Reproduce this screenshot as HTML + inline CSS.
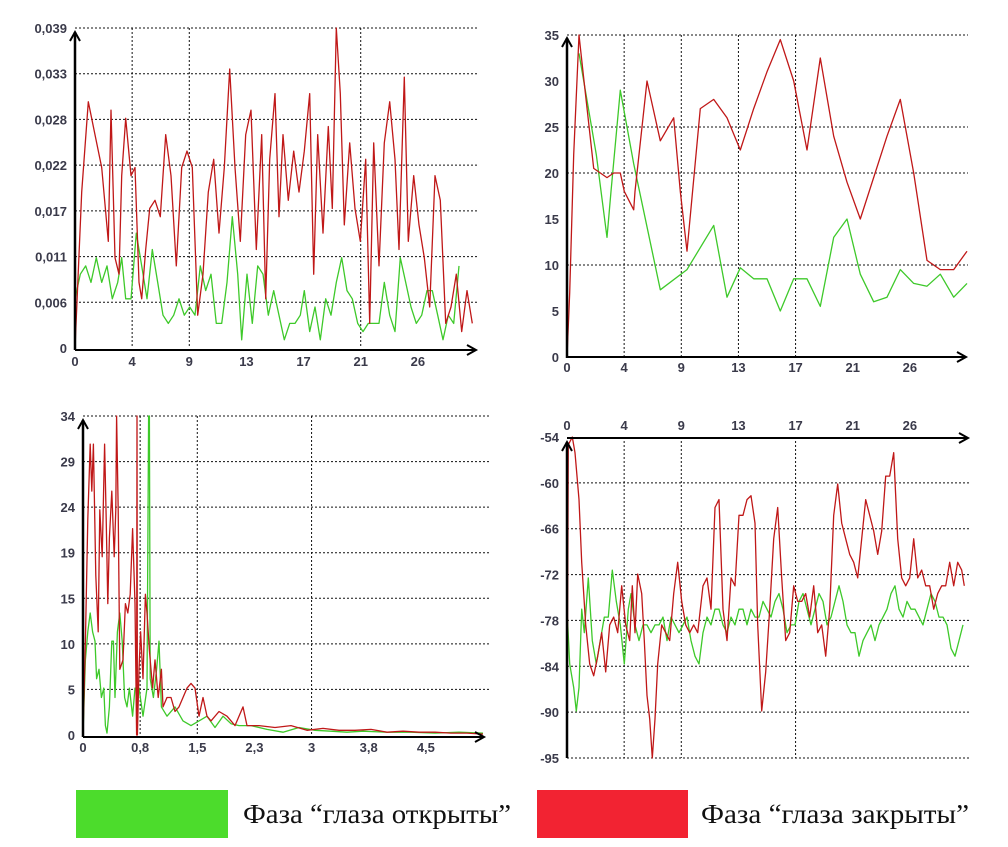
<!DOCTYPE html>
<html><head><meta charset="utf-8"><style>
html,body{margin:0;padding:0;background:#fff;}
svg{display:block;}
.tk{font-family:"Liberation Sans",sans-serif;font-size:13px;font-weight:bold;fill:#3a3a4a;}
.lg{font-family:"Liberation Serif","Noto Serif CJK SC",serif;font-size:27px;fill:#111;}
</style></head><body>
<svg id="root" width="1008" height="847" viewBox="0 0 1008 847">
<g id="c1"></g>
<g id="c2"></g>
<g id="c3"></g>
<g id="c4"></g>
<g>
<rect x="76" y="790" width="152" height="48" fill="#4cdc2c"/>
<text class="lg" x="243" y="823" textLength="268" lengthAdjust="spacingAndGlyphs">Фаза “глаза открыты”</text>
<rect x="537" y="790" width="151" height="48" fill="#f22332"/>
<text class="lg" x="701" y="823" textLength="268" lengthAdjust="spacingAndGlyphs">Фаза “глаза закрыты”</text>
</g>
</svg>
<script>
// Chart 1 data
const c1Ticks = ["0","0,006","0,011","0,017","0,022","0,028","0,033","0,039"];
const c1XLabels = ["0","4","9","13","17","21","26"];
const c1RedT = [0,0.5,1,1.5,2,2.5,2.7,3,3.3,3.5,3.8,4.2,4.5,4.8,5,5.3,5.6,6,6.4,6.8,7.2,7.6,8,8.4,8.8,9.2,9.6,10,10.4,10.8,11.2,11.6,12,12.4,12.8,13.2,13.6,14,14.3,14.6,15,15.3,15.6,16,16.4,16.8,17.2,17.6,17.9,18.2,18.6,19,19.3,19.6,19.9,20.2,20.6,21,21.4,21.8,22.1,22.4,22.8,23.2,23.6,24,24.3,24.7,25,25.4,25.8,26.2,26.6,27,27.4,27.8,28.2,28.6,29,29.4,29.8];
const c1RedV = [0,0.019,0.030,0.026,0.022,0.013,0.029,0.011,0.009,0.021,0.028,0.021,0.022,0.008,0.006,0.012,0.017,0.018,0.016,0.026,0.021,0.010,0.022,0.024,0.022,0.004,0.009,0.019,0.023,0.014,0.022,0.034,0.022,0.013,0.026,0.029,0.012,0.026,0.006,0.023,0.031,0.016,0.026,0.018,0.024,0.019,0.024,0.031,0.009,0.026,0.014,0.027,0.017,0.039,0.031,0.015,0.025,0.017,0.013,0.023,0.003,0.025,0.010,0.025,0.030,0.023,0.012,0.033,0.013,0.021,0.015,0.011,0.005,0.021,0.018,0.003,0.005,0.009,0.002,0.007,0.003];
const c1GreenT = [0,0.4,0.8,1.2,1.6,2,2.4,2.8,3.2,3.5,3.8,4.2,4.6,5,5.4,5.8,6.2,6.6,7,7.4,7.8,8.2,8.6,9,9.4,9.8,10.2,10.6,11,11.4,11.8,12.2,12.5,12.9,13.3,13.7,14.1,14.5,14.9,15.3,15.7,16.1,16.5,16.9,17.2,17.6,18,18.4,18.8,19.2,19.6,20,20.4,20.8,21.2,21.6,22,22.4,22.8,23.2,23.6,24,24.4,24.8,25.2,25.6,26,26.4,26.8,27.2,27.6,28,28.4,28.8];
const c1GreenV = [0.006,0.009,0.010,0.008,0.011,0.008,0.010,0.006,0.008,0.011,0.006,0.006,0.014,0.010,0.006,0.012,0.008,0.004,0.003,0.004,0.006,0.004,0.005,0.004,0.010,0.007,0.009,0.003,0.003,0.008,0.016,0.009,0.001,0.009,0.003,0.010,0.009,0.004,0.007,0.004,0.001,0.003,0.003,0.004,0.007,0.002,0.005,0.001,0.006,0.004,0.008,0.011,0.007,0.006,0.003,0.002,0.003,0.003,0.003,0.008,0.004,0.002,0.011,0.008,0.005,0.003,0.004,0.007,0.007,0.004,0.001,0.004,0.003,0.010];

// Chart 2 data
const c2Ticks = ["0","5","10","15","20","25","30","35"];
const c2XLabels = ["0","4","9","13","17","21","26"];
const c2RedT = [0,0.2,0.5,0.9,1.2,2,3,3.5,4,4.3,5,5.1,6,7,8,8.5,9,10,11,12,13,14,15,16,17,18,19,20,21,22,24,25,26,27,28,29,30];
const c2RedV = [0,7,22,35,31,20.5,19.5,20,20,18,16,18,30,23.5,26,18,11.5,27,28,26,22.5,27,31,34.5,30,22.5,32.5,24,19,15,24,28,20,10.5,9.5,9.5,11.5];
const c2GreenT = [0.9,2.2,3,3.3,4,5,7,9,11,12,13,14,15,16,17,18,19,20,21,22,23,24,25,26,27,28,29,30];
const c2GreenV = [33,22,13,18,29,21,7.3,9.5,14.3,6.5,9.7,8.5,8.5,5,8.5,8.5,5.5,13,15,9,6,6.5,9.5,8,7.7,9,6.5,8];

// Chart 3 data
const c3Ticks = ["0","5","10","15","19","24","29","34"];
const c3XLabels = ["0","0,8","1,5","2,3","3","3,8","4,5"];
const c3RedT = [0,0.03,0.06,0.09,0.11,0.13,0.16,0.19,0.21,0.24,0.27,0.29,0.31,0.33,0.36,0.39,0.41,0.42,0.44,0.46,0.5,0.53,0.56,0.59,0.62,0.65,0.67,0.675,0.68,0.7,0.72,0.75,0.78,0.8,0.83,0.87,0.9,0.94,0.98,1.0,1.05,1.1,1.15,1.2,1.3,1.35,1.4,1.45,1.5,1.55,1.6,1.7,1.8,1.9,2.0,2.05,2.2,2.4,2.6,2.8,3.0,3.2,3.4,3.6,3.8,4.0,4.2,4.4,4.6,4.8,5.0];
const c3RedV = [0,10,23,31,26,31,17,11,24,19,31,23,14,21,26,19,24,34,24,7,8,14,13,15,22,14,0,34,0,7,11,6,15,13,9,5,8,4,7,3,4,4,2.5,3,5,5.5,5,2,4,2,1.5,2.5,2,1,3,1,1,0.8,1,0.5,0.7,0.5,0.5,0.6,0.3,0.4,0.3,0.3,0.2,0.2,0.1];
const c3GreenT = [0,0.03,0.06,0.09,0.12,0.15,0.17,0.2,0.23,0.26,0.28,0.3,0.33,0.36,0.38,0.4,0.43,0.46,0.49,0.52,0.55,0.58,0.62,0.65,0.7,0.75,0.8,0.82,0.83,0.84,0.88,0.92,0.95,0.98,1.05,1.15,1.25,1.35,1.45,1.55,1.65,1.75,1.85,1.95,2.1,2.3,2.5,2.7,2.9,3.1,3.3,3.5,3.8,4.1,4.4,4.7,5.0];
const c3GreenV = [0,8,11,13,11,10,6,7,4,5,1,0.2,3,10,10,4,11,13,10,4,3,5,2,5,5,2,5,34,34,6,4,7,10,3,2,3,1.5,1,1.5,2,0.8,2,1.2,1,1,0.6,0.3,0.8,0.5,0.4,0.3,0.4,0.3,0.3,0.2,0.3,0.2];

// Chart 4 data
const c4Ticks = ["-95","-90","-84","-78","-72","-66","-60","-54"];
const c4XLabels = ["0","4","9","13","17","21","26"];
const c4RedT = [0,0.1,0.4,0.6,0.9,1.1,1.4,1.7,2.0,2.3,2.6,2.9,3.2,3.5,3.8,4.1,4.4,4.7,4.9,5.1,5.3,5.6,5.8,6.0,6.2,6.4,6.6,6.8,7.1,7.4,7.7,8.0,8.3,8.6,8.9,9.2,9.5,9.8,10.2,10.5,10.8,11.1,11.4,11.7,12.0,12.3,12.6,12.9,13.2,13.5,13.8,14.1,14.3,14.6,14.9,15.2,15.5,15.8,16.1,16.4,16.7,17.0,17.3,17.6,17.9,18.2,18.5,18.8,19.1,19.4,19.7,20.0,20.3,20.6,20.9,21.2,21.5,21.8,22.1,22.4,22.7,23.0,23.3,23.6,23.9,24.2,24.5,24.8,25.1,25.4,25.7,26.0,26.3,26.6,26.9,27.2,27.5,27.8,28.1,28.4,28.7,29.0,29.3,29.6,29.8];
const c4RedV = [-95,-55,-54,-56,-62,-70,-78,-83,-84.5,-82,-79,-84,-78,-77,-79,-73,-78,-80,-73,-79,-71.5,-74,-80,-87,-90,-95,-90,-83,-78,-79,-80,-74,-70,-75,-78,-79,-78,-79,-73,-72,-76,-63,-62,-76,-80,-72,-73,-64,-64,-62,-61.5,-65,-78,-89,-84,-76,-67,-63,-72,-80,-79,-73,-75,-75,-74,-77,-73,-79,-78,-82,-76,-64,-60,-65,-67,-69,-70,-72,-67,-62,-64,-66,-69,-66,-59,-59,-56,-67,-72,-73,-72,-67,-72,-71,-73,-73,-76,-74,-73,-73,-70,-73,-70,-71,-73];
const c4GreenT = [0,0.2,0.5,0.7,0.9,1.1,1.3,1.6,1.9,2.2,2.5,2.8,3.1,3.4,3.7,4.0,4.3,4.6,4.8,5.1,5.4,5.7,6.0,6.3,6.6,6.9,7.2,7.5,7.8,8.1,8.4,8.7,9.0,9.3,9.6,9.9,10.2,10.5,10.8,11.1,11.4,11.7,12.0,12.3,12.6,12.9,13.2,13.5,13.8,14.1,14.4,14.7,15.0,15.3,15.6,15.9,16.2,16.5,16.8,17.1,17.4,17.7,18.0,18.3,18.6,18.9,19.2,19.5,19.8,20.1,20.4,20.7,21.0,21.3,21.6,21.9,22.2,22.5,22.8,23.1,23.4,23.7,24.0,24.3,24.6,24.9,25.2,25.5,25.8,26.1,26.4,26.7,27.0,27.3,27.6,27.9,28.2,28.5,28.8,29.1,29.4,29.7];
const c4GreenV = [-76,-83,-86,-89,-86,-76,-79,-72,-80,-83,-80,-77,-77,-71,-75,-78,-83,-76,-74,-78,-80,-78,-78,-79,-78,-78,-77,-80,-77,-78,-79,-78,-77,-80,-82,-83,-79,-77,-78,-76,-76,-78,-79,-77,-78,-76,-76,-78,-76,-77,-77,-75,-76,-77,-75,-74,-76,-79,-78,-78,-75,-74,-76,-78,-76,-74,-75,-78,-77,-75,-73,-75,-78,-79,-79,-82,-80,-79,-78,-80,-78,-77,-76,-74,-73,-76,-77,-75,-76,-76,-77,-78,-76,-74,-75,-77,-77,-78,-81,-82,-80,-78];

const NS = "http://www.w3.org/2000/svg";
function mk(parent, tag, attrs){
  const e = document.createElementNS(NS, tag);
  for (const k in attrs) e.setAttribute(k, attrs[k]);
  parent.appendChild(e);
  return e;
}
function chart(g, o){
  const sx = v => o.x0 + (v - o.xmin) / (o.xmax - o.xmin) * (o.x1 - o.x0);
  const sy = v => o.y0 - (v - o.ymin) / (o.ymax - o.ymin) * (o.y0 - o.y1);
  const n = o.ticks.length - 1;
  // horizontal grid + y ticks
  for (let i = 0; i <= n; i++){
    const v = o.ymin + (o.ymax - o.ymin) * i / n;
    const y = sy(v);
    if (o.hgrid.includes(i)){
      const gl = mk(g,'line',{x1:o.x0, y1:y, x2:o.gx2, y2:y, stroke:'#111', 'stroke-width':1, 'stroke-dasharray':'2,2'});
      
      
    }
    const t = mk(g,'text',{x:o.x0 - 8, y:y + 5, 'text-anchor':'end', class:'tk'});
    t.textContent = o.ticks[i];
    
    
  }
  // vertical grid + x labels
  const m = o.xlabels.length;
  const step = (o.xmax - o.xmin) / 7;
  for (let i = 0; i < m; i++){
    const x = sx(o.xmin + step * i);
    if (o.vgrid.includes(i)){
      const vl = mk(g,'line',{x1:x, y1:o.vg1, x2:x, y2:o.vg2, stroke:'#111', 'stroke-width':1, 'stroke-dasharray':'2,2'});
      
      
    }
    const t = mk(g,'text',{x:x, y:o.xly, 'text-anchor':'middle', class:'tk'});
    t.textContent = o.xlabels[i];
    
    
  }
  // series
  const series = [[o.gT, o.gV, '#3ec92a'], [o.rT, o.rV, '#c01818']];
  for (const s of series){
    const pts = s[0].map((t, i) => sx(t).toFixed(1) + ',' + sy(s[1][i]).toFixed(1)).join(' ');
    const pl = mk(g,'polyline',{points:pts, fill:'none', stroke:s[2], 'stroke-width':1.3, 'stroke-linejoin':'round'});
    
    
  }
  // axes
  const ya = mk(g,'line',{x1:o.x0, y1:o.yaTop, x2:o.x0, y2:o.yaBot, stroke:'#000', 'stroke-width':2.5});
  
  
  const yar = mk(g,'path',{d:`M${o.x0-5},${o.yaTop+9} L${o.x0},${o.yaTop} L${o.x0+5},${o.yaTop+9}`, fill:'none', stroke:'#000', 'stroke-width':2});
  
  
  const xa = mk(g,'line',{x1:o.x0, y1:o.xaY, x2:o.xaEnd, y2:o.xaY, stroke:'#000', 'stroke-width':2});
  
  
  const xar = mk(g,'path',{d:`M${o.xaEnd-9},${o.xaY-5} L${o.xaEnd},${o.xaY} L${o.xaEnd-9},${o.xaY+5}`, fill:'none', stroke:'#000', 'stroke-width':2});
  
  
}
chart(document.getElementById('c1'), {x0:75,x1:475,xmin:0,xmax:30,y0:348,y1:28,ymin:0,ymax:0.039,
  ticks:c1Ticks,xlabels:c1XLabels,hgrid:[1,2,3,4,5,6,7],gx2:478,vgrid:[1,2,5],vg1:28,vg2:348,xly:366,
  rT:c1RedT,rV:c1RedV,gT:c1GreenT,gV:c1GreenV,yaTop:32,yaBot:350,xaY:350,xaEnd:476});
chart(document.getElementById('c2'), {x0:567,x1:967,xmin:0,xmax:30,y0:357,y1:35,ymin:0,ymax:35,
  ticks:c2Ticks,xlabels:c2XLabels,hgrid:[2,4,5,7],gx2:968,vgrid:[1,2,3,4],vg1:35,vg2:357,xly:372,
  rT:c2RedT,rV:c2RedV,gT:c2GreenT,gV:c2GreenV,yaTop:38,yaBot:358,xaY:357,xaEnd:966});
chart(document.getElementById('c3'), {x0:83,x1:483,xmin:0,xmax:5,y0:735,y1:416,ymin:0,ymax:34,
  ticks:c3Ticks,xlabels:c3XLabels,hgrid:[1,2,3,4,5,6,7],gx2:490,vgrid:[1,2,4],vg1:416,vg2:735,xly:752,
  rT:c3RedT,rV:c3RedV,gT:c3GreenT,gV:c3GreenV,yaTop:420,yaBot:737,xaY:737,xaEnd:484});
chart(document.getElementById('c4'), {x0:567,x1:967,xmin:0,xmax:30,y0:758,y1:437,ymin:-95,ymax:-54,
  ticks:c4Ticks,xlabels:c4XLabels,hgrid:[0,1,2,3,4,5,6],gx2:970,vgrid:[1,2,4],vg1:437,vg2:758,xly:430,
  rT:c4RedT,rV:c4RedV,gT:c4GreenT,gV:c4GreenV,yaTop:442,yaBot:758,xaY:438,xaEnd:968});
</script>
</body></html>
